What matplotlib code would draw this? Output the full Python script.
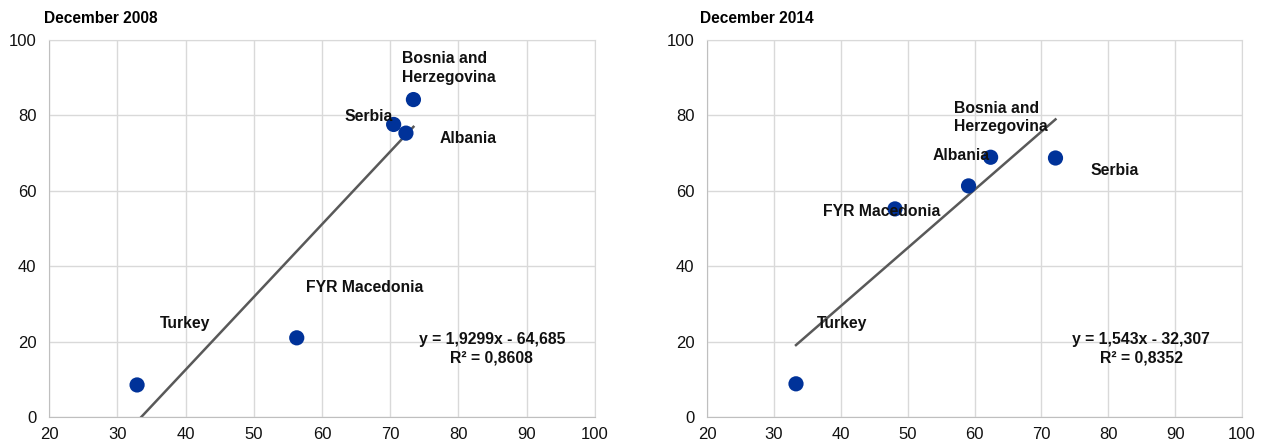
import matplotlib.pyplot as plt
import numpy as np

plt.rcParams['font.family'] = ['Liberation Sans', 'DejaVu Sans']

# Datos
paises_2008 = ['Turkey', 'FYR Macedonia', 'Serbia', 'Albania', 'Bosnia and\nHerzegovina']
x_2008 = [32.9, 56.3, 70.5, 72.3, 73.4]
y_2008 = [8.5, 21.0, 77.6, 75.3, 84.2]

paises_2014 = ['Turkey', 'FYR Macedonia', 'Albania', 'Bosnia and\nHerzegovina', 'Serbia']
x_2014 = [33.3, 48.1, 59.1, 62.4, 72.1]
y_2014 = [8.8, 55.2, 61.3, 68.9, 68.7]

# Tendencias (pendiente, intercepto, R2)
tend_2008 = (1.9299, -64.685, 0.8608)
tend_2014 = (1.543, -32.307, 0.8352)
eq_2008 = 'y = 1,9299x - 64,685\nR² = 0,8608'
eq_2014 = 'y = 1,543x - 32,307\nR² = 0,8352'

# Posiciones de etiquetas (x, y, alineación vertical)
pos_2008 = [(36.3, 24.7, 'center'), (57.7, 34.3, 'center'), (63.3, 79.8, 'center'),
            (77.3, 73.8, 'center'), (71.7, 97.0, 'top')]
pos_2014 = [(36.4, 24.7, 'center'), (37.4, 54.5, 'center'), (53.8, 69.3, 'center'),
            (56.9, 83.8, 'top'), (77.3, 65.5, 'center')]

azul = '#003299'
gris = '#595959'

fig = plt.figure(figsize=(12.61, 4.43), dpi=100)
ax1 = fig.add_axes([0.0389, 0.0587, 0.4329, 0.851])
ax2 = fig.add_axes([0.5607, 0.0587, 0.4243, 0.851])


def panel(ax, titulo, paises, xs, ys, tend, eq, pos, tx):
    m, b, r2 = tend
    xl = np.array([max(min(xs), -b / m), max(xs)])
    ax.plot(xl, m * xl + b, color=gris, lw=1.8, zorder=2)
    ax.scatter(xs, ys, s=120, color=azul, zorder=3, edgecolors='none')
    for nombre, (px, py, va) in zip(paises, pos):
        ax.text(px, py, nombre, fontsize=11.3, fontweight='bold', ha='left', va=va,
                color='#111111', zorder=4, linespacing=1.28)
    ax.text(84.9, 18.2, eq, fontsize=11.3, fontweight='bold', ha='center', va='center',
            multialignment='center', color='#111111', linespacing=1.28)
    ax.set_xlim(20, 100)
    ax.set_ylim(0, 100)
    ax.set_xticks(range(20, 101, 10))
    ax.set_yticks(range(0, 101, 20))
    ax.grid(True, color='#d9d9d9', lw=1)
    ax.set_axisbelow(True)
    for s in ax.spines.values():
        s.set_color('#d9d9d9')
    ax.spines['left'].set_color('#bfbfbf')
    ax.spines['bottom'].set_color('#bfbfbf')
    ax.tick_params(length=0, labelsize=12, colors='#111111')
    ax.tick_params(axis='y', pad=9)
    ax.tick_params(axis='x', pad=7)
    fig.text(tx, 0.959, titulo, fontsize=11.2, fontweight='bold', ha='left', va='center')


panel(ax1, 'December 2008', paises_2008, x_2008, y_2008, tend_2008, eq_2008, pos_2008, 0.0345)
panel(ax2, 'December 2014', paises_2014, x_2014, y_2014, tend_2014, eq_2014, pos_2014, 0.5555)

fig.savefig('out.png', dpi=100)
